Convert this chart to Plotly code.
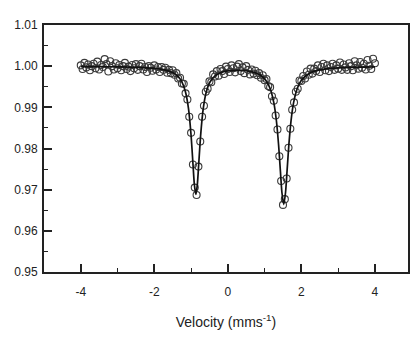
import plotly.graph_objects as go

# Measured spectrum (velocity in mm/s, relative transmission)
velocity = [
    -4.00, -3.95, -3.90, -3.85, -3.80, -3.75, -3.70, -3.65, -3.60, -3.55,
    -3.50, -3.45, -3.40, -3.35, -3.30, -3.25, -3.20, -3.15, -3.10, -3.05,
    -3.00, -2.95, -2.90, -2.85, -2.80, -2.75, -2.70, -2.65, -2.60, -2.55,
    -2.50, -2.45, -2.40, -2.35, -2.30, -2.25, -2.20, -2.15, -2.10, -2.05,
    -2.00, -1.95, -1.90, -1.85, -1.80, -1.75, -1.70, -1.65, -1.60, -1.55,
    -1.50, -1.45, -1.40, -1.35, -1.30, -1.25, -1.20, -1.15, -1.10, -1.05,
    -1.00, -0.95, -0.90, -0.85, -0.80, -0.75, -0.70, -0.65, -0.60, -0.55,
    -0.50, -0.45, -0.40, -0.35, -0.30, -0.25, -0.20, -0.15, -0.10, -0.05,
    0.00, 0.05, 0.10, 0.15, 0.20, 0.25, 0.30, 0.35, 0.40, 0.45,
    0.50, 0.55, 0.60, 0.65, 0.70, 0.75, 0.80, 0.85, 0.90, 0.95,
    1.00, 1.05, 1.10, 1.15, 1.20, 1.25, 1.30, 1.35, 1.40, 1.45,
    1.50, 1.55, 1.60, 1.65, 1.70, 1.75, 1.80, 1.85, 1.90, 1.95,
    2.00, 2.05, 2.10, 2.15, 2.20, 2.25, 2.30, 2.35, 2.40, 2.45,
    2.50, 2.55, 2.60, 2.65, 2.70, 2.75, 2.80, 2.85, 2.90, 2.95,
    3.00, 3.05, 3.10, 3.15, 3.20, 3.25, 3.30, 3.35, 3.40, 3.45,
    3.50, 3.55, 3.60, 3.65, 3.70, 3.75, 3.80, 3.85, 3.90, 3.95,
    4.00,
]
transmission = [
    1.0002, 0.9993, 1.0008, 0.9997, 1.0004, 0.9990, 1.0000, 1.0006, 0.9995, 1.0011,
    0.9992, 1.0003, 0.9998, 1.0017, 1.0005, 0.9987, 1.0012, 1.0000, 0.9992, 1.0007,
    0.9995, 1.0003, 0.9990, 1.0000, 1.0008, 0.9993, 0.9999, 0.9988, 1.0003, 0.9995,
    1.0005, 0.9991, 1.0000, 1.0006, 0.9992, 0.9998, 0.9986, 1.0000, 0.9996, 0.9989,
    1.0002, 0.9992, 0.9998, 0.9986, 0.9998, 0.9991, 0.9996, 0.9984, 0.9991, 0.9983,
    0.9990, 0.9979, 0.9983, 0.9970, 0.9972, 0.9958, 0.9957, 0.9934, 0.9919, 0.9877,
    0.9838, 0.9761, 0.9705, 0.9687, 0.9756, 0.9817, 0.9877, 0.9904, 0.9938, 0.9945,
    0.9963, 0.9961, 0.9980, 0.9975, 0.9988, 0.9977, 0.9993, 0.9988, 0.9981, 0.9999,
    0.9993, 0.9986, 1.0002, 0.9995, 0.9985, 0.9999, 1.0005, 0.9988, 0.9997, 0.9983,
    1.0000, 0.9991, 0.9980, 0.9992, 0.9982, 0.9989, 0.9978, 0.9983, 0.9972, 0.9978,
    0.9966, 0.9969, 0.9952, 0.9949, 0.9927, 0.9916, 0.9880, 0.9846, 0.9781, 0.9721,
    0.9663, 0.9677, 0.9727, 0.9802, 0.9848, 0.9894, 0.9912, 0.9938, 0.9945, 0.9965,
    0.9964, 0.9976, 0.9970, 0.9987, 0.9979, 0.9994, 0.9982, 0.9994, 0.9988, 1.0002,
    0.9986, 0.9998, 1.0006, 0.9990, 1.0002, 0.9988, 0.9998, 1.0006, 0.9991, 1.0002,
    0.9994, 1.0009, 0.9991, 1.0004, 0.9997, 0.9991, 1.0007, 1.0000, 0.9990, 1.0012,
    1.0002, 0.9994, 1.0010, 0.9996, 1.0006, 0.9992, 1.0015, 1.0001, 0.9993, 1.0018,
    1.0007,
]

# Fitted curve
fit_velocity = [
    -4.0, -3.5, -3.0, -2.5, -2.0, -1.75, -1.5, -1.35, -1.25, -1.15,
    -1.07, -1.0, -0.95, -0.91, -0.87, -0.83, -0.79, -0.74, -0.67, -0.59,
    -0.49, -0.35, -0.2, 0.0, 0.2, 0.4, 0.6, 0.8, 0.95, 1.05,
    1.15, 1.25, 1.32, 1.38, 1.43, 1.47, 1.52, 1.57, 1.61, 1.66,
    1.72, 1.79, 1.89, 2.0, 2.2, 2.5, 3.0, 3.5, 4.0,
]
fit_transmission = [
    0.99991, 0.99988, 0.99982, 0.99972, 0.99946, 0.99916, 0.99845, 0.99747, 0.99618, 0.99368,
    0.98968, 0.98322, 0.97649, 0.97119, 0.96885, 0.97118, 0.97647, 0.98318, 0.98963, 0.99361,
    0.99609, 0.99766, 0.99842, 0.99885, 0.99899, 0.99896, 0.99874, 0.99821, 0.99737, 0.99636,
    0.99458, 0.99116, 0.98680, 0.98091, 0.97444, 0.96937, 0.96639, 0.96938, 0.97445, 0.98093,
    0.98684, 0.99121, 0.99464, 0.99658, 0.99818, 0.99908, 0.99957, 0.99975, 0.99983,
]

x_tick_vals = [-4, -2, 0, 2, 4]
x_tick_text = ["-4", "-2", "0", "2", "4"]
y_tick_vals = [0.95, 0.96, 0.97, 0.98, 0.99, 1.00, 1.01]
y_tick_text = ["0.95", "0.96", "0.97", "0.98", "0.99", "1.00", "1.01"]

ink = "#222222"

fig = go.Figure()
fig.add_trace(go.Scatter(
    x=velocity, y=transmission, mode="markers",
    marker=dict(symbol="circle-open", size=7, color="#3a3a3a", line=dict(width=1.1)),
    showlegend=False,
))
fig.add_trace(go.Scatter(
    x=fit_velocity, y=fit_transmission, mode="lines",
    line=dict(color="#111111", width=1.7, shape="spline", smoothing=0.6),
    showlegend=False,
))

axis_font = dict(family="Liberation Sans, Arial, sans-serif", size=12, color=ink)

fig.update_xaxes(
    range=[-5, 4.9], showgrid=False, zeroline=False,
    showline=True, linecolor=ink, linewidth=2, mirror=True,
    ticks="inside", ticklen=8, tickwidth=1.5, tickcolor=ink,
    tickvals=x_tick_vals, ticktext=x_tick_text, tickfont=axis_font,
    ticklabelstandoff=8,
    minor=dict(dtick=1, ticks="inside", ticklen=4, tickwidth=1.2, tickcolor=ink, showgrid=False),
    title=dict(text="Velocity (mms<sup>-1</sup>)",
               font=dict(family="Liberation Sans, Arial, sans-serif", size=14, color=ink),
               standoff=19),
)
fig.update_yaxes(
    range=[0.95, 1.01], showgrid=False, zeroline=False,
    showline=True, linecolor=ink, linewidth=2, mirror=True,
    ticks="inside", ticklen=8, tickwidth=1.5, tickcolor=ink,
    tickvals=y_tick_vals, ticktext=y_tick_text, tickfont=axis_font,
    ticklabelstandoff=2,
    minor=dict(dtick=0.005, ticks="inside", ticklen=4, tickwidth=1.2, tickcolor=ink, showgrid=False),
)
fig.update_layout(
    width=412, height=339,
    margin=dict(l=44, r=2, t=25, b=67),
    paper_bgcolor="white", plot_bgcolor="white",
)
fig.write_html("out.html")
